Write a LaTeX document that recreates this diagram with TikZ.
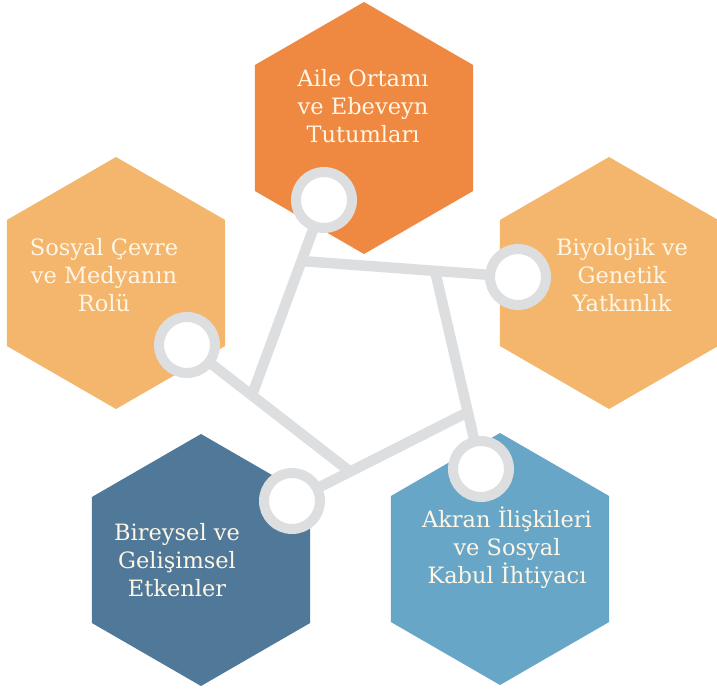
\documentclass[tikz,border=0pt]{standalone}
\usepackage{fontspec}
\setmainfont{DejaVu Serif}
\usetikzlibrary{calc}
\definecolor{orangeD}{RGB}{239,136,64}
\definecolor{orangeL}{RGB}{243,182,108}
\definecolor{blueD}{RGB}{80,121,153}
\definecolor{blueL}{RGB}{104,166,200}
\definecolor{ringgray}{RGB}{221,222,224}
\definecolor{txtcream}{RGB}{255,246,230}
\pgfdeclarelayer{hexlayer}
\pgfdeclarelayer{linelayer}
\pgfsetlayers{hexlayer,linelayer,main}
\begin{document}
\begin{tikzpicture}[x=1pt,y=-1pt,
  ring/.style={circle, draw=ringgray, line width=10pt, fill=white, minimum size=56pt, inner sep=0pt, outer sep=0pt},
  link/.style={draw=ringgray, line width=10.5pt},
  txt/.style={text=txtcream, align=center, inner sep=0pt, font=\fontsize{22.5}{28}\selectfont}]
\useasboundingbox (0,0) rectangle (717,691);
\clip (0,0) rectangle (717,691);
% hexagon centres
\coordinate (hT) at (364,128);
\coordinate (hL) at (116,283);
\coordinate (hR) at (609,283);
\coordinate (hBL) at (201,560);
\coordinate (hBR) at (500,559);
\begin{pgfonlayer}{hexlayer}
\foreach \c/\col in {hT/orangeD,hL/orangeL,hR/orangeL,hBL/blueD,hBR/blueL}
  \fill[\col] (\c) ++(30:126) -- ++(150:126) -- ++(210:126) -- ++(270:126) -- ++(330:126) -- ++(30:126) -- cycle;
\end{pgfonlayer}
% rings
\node[ring] (rT) at (324,200) {};
\node[ring] (rR) at (518,277) {};
\node[ring] (rL) at (187,345) {};
\node[ring] (rBL) at (292,501) {};
\node[ring] (rBR) at (481,469) {};
% junctions
\coordinate (jA) at (252,395);
\coordinate (jB) at (301.5,261);
\coordinate (jC) at (435,271);
\coordinate (jD) at (468,412);
\coordinate (jE) at (350,471.5);
\begin{pgfonlayer}{linelayer}
\draw[link] (rT.center) -- (jA);
\draw[link] (rR.center) -- (jB);
\draw[link] (rBR.center) -- (jC);
\draw[link] (rBL.center) -- (jD);
\draw[link] (rL.center) -- (jE);
\end{pgfonlayer}
% texts
\node[txt] (tT) at (363,106) {Aile Ortamı\\ve Ebeveyn\\Tutumları};
\node[txt] (tL) at (104,275) {Sosyal Çevre\\ve Medyanın\\Rolü};
\node[txt] (tR) at (622,275) {Biyolojik ve\\Genetik\\Yatkınlık};
\node[txt] (tBL) at (177,560) {Bireysel ve\\Gelişimsel\\Etkenler};
\node[txt] (tBR) at (507,548) {Akran İlişkileri\\ve Sosyal\\Kabul İhtiyacı};
\end{tikzpicture}
\end{document}
